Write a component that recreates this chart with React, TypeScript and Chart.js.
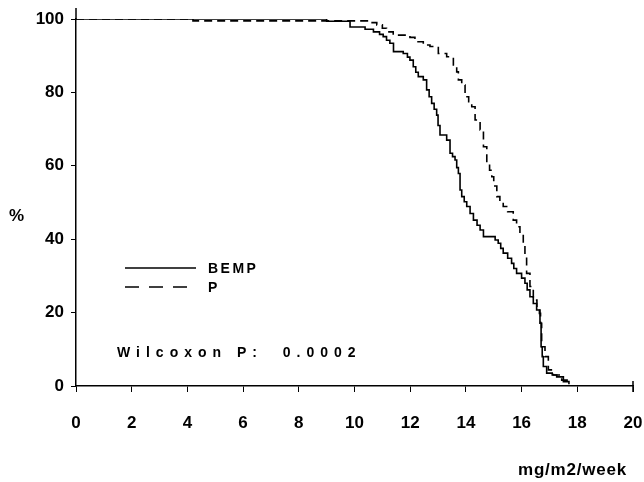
import React, { useEffect, useRef } from 'react';
import { Chart, registerables } from 'chart.js';

Chart.register(...registerables);

const xTickValues = [0, 2, 4, 6, 8, 10, 12, 14, 16, 18, 20];
const yTickValues = [0, 20, 40, 60, 80, 100];

const bempX = [0, 9.0, 9.84, 10.38, 10.68, 10.9, 11.03, 11.15, 11.27, 11.4, 11.75, 11.9, 11.99, 12.11, 12.2, 12.29, 12.47, 12.59, 12.68, 12.77, 12.86, 12.95, 13.0, 13.07, 13.31, 13.43, 13.52, 13.61, 13.67, 13.73, 13.79, 13.85, 13.94, 14.03, 14.15, 14.27, 14.4, 14.51, 14.63, 15.05, 15.16, 15.25, 15.34, 15.5, 15.64, 15.72, 15.82, 16.0, 16.12, 16.2, 16.3, 16.42, 16.54, 16.66, 16.7, 16.74, 16.78, 16.9, 17.1, 17.26, 17.5, 17.7];
const bempY = [100, 99.4, 97.8, 97.2, 96.5, 95.8, 95.2, 94.2, 93.4, 91.1, 90.6, 89.6, 88.8, 87.0, 85.5, 84.3, 83.4, 80.7, 78.8, 77.0, 75.4, 73.8, 71.0, 68.4, 67.0, 63.4, 62.5, 61.6, 59.5, 57.9, 53.4, 51.6, 50.2, 48.9, 47.0, 45.2, 43.8, 42.5, 40.7, 39.8, 38.9, 37.5, 36.2, 34.8, 33.4, 32.0, 30.7, 29.4, 28.0, 26.2, 24.3, 22.5, 20.7, 17.1, 10.7, 8.0, 5.3, 3.5, 3.0, 2.5, 1.2, 0.5];

const pX = [0, 4.2, 10.56, 10.8, 11.0, 11.15, 11.39, 11.99, 12.17, 12.47, 12.71, 13.01, 13.31, 13.55, 13.67, 13.73, 13.85, 13.97, 14.1, 14.21, 14.33, 14.51, 14.63, 14.75, 14.85, 14.93, 15.0, 15.11, 15.22, 15.34, 15.5, 15.7, 15.82, 15.94, 16.06, 16.12, 16.18, 16.3, 16.42, 16.55, 16.64, 16.68, 16.72, 16.84, 16.96, 17.14, 17.44, 17.68];
const pY = [100, 99.5, 99.0, 98.4, 97.5, 96.5, 95.6, 95.0, 93.8, 92.9, 92.5, 90.6, 89.7, 87.5, 85.6, 83.4, 82.0, 78.8, 77.5, 76.1, 72.5, 69.8, 65.2, 60.7, 58.8, 57.0, 54.5, 51.6, 50.2, 48.9, 47.5, 45.2, 43.4, 41.6, 38.9, 35.2, 30.7, 27.1, 23.4, 21.5, 19.8, 17.1, 10.7, 8.0, 4.4, 3.0, 1.6, 0.9];

const seriesNames = ['BEMP', 'P'];
const statText = 'Wilcoxon P:  0.0002';
const xTitle = 'mg/m2/week';
const yTitle = '%';

const FONT = '"Liberation Sans", Arial, Helvetica, sans-serif';

const annotations = {
  id: 'annotations',
  afterDraw(chart: any) {
    const ctx = chart.ctx as CanvasRenderingContext2D;
    const area = chart.chartArea;
    ctx.save();
    ctx.fillStyle = '#000';
    ctx.strokeStyle = '#000';

    // y-axis extension above 100
    ctx.lineWidth = 1.5;
    ctx.beginPath();
    ctx.moveTo(area.left, area.top);
    ctx.lineTo(area.left, area.top - 11);
    ctx.stroke();
    // x-axis end tick
    ctx.beginPath();
    ctx.moveTo(area.right, area.bottom - 5);
    ctx.lineTo(area.right, area.bottom + 6);
    ctx.stroke();

    // y title
    ctx.font = `bold 17px ${FONT}`;
    ctx.textBaseline = 'middle';
    ctx.textAlign = 'left';
    ctx.fillText(yTitle, 9, 216);

    // legend
    const lx0 = 125, lx1 = 196;
    const ly = [268, 287];
    ctx.lineWidth = 1.6;
    ctx.setLineDash([]);
    ctx.beginPath();
    ctx.moveTo(lx0, ly[0]);
    ctx.lineTo(lx1, ly[0]);
    ctx.stroke();
    ctx.setLineDash([14, 10]);
    ctx.beginPath();
    ctx.moveTo(lx0, ly[1]);
    ctx.lineTo(lx1, ly[1]);
    ctx.stroke();
    ctx.setLineDash([]);

    ctx.font = `bold 14px ${FONT}`;
    (ctx as any).letterSpacing = '2.5px';
    ctx.fillText(seriesNames[0], 208, ly[0] + 1);
    ctx.fillText(seriesNames[1], 208, ly[1] + 1);

    // statistic
    (ctx as any).letterSpacing = '6px';
    ctx.fillText(statText, 117, 353);

    // x title
    (ctx as any).letterSpacing = '0.8px';
    ctx.font = `bold 17px ${FONT}`;
    ctx.fillText(xTitle, 518, 470);
    (ctx as any).letterSpacing = '0px';
    ctx.restore();
  },
};

export default function App() {
  const canvasRef = useRef<HTMLCanvasElement | null>(null);

  useEffect(() => {
    const canvas = canvasRef.current;
    if (!canvas) return;
    const chart = new Chart(canvas, {
      type: 'line',
      data: {
        datasets: [
          {
            label: seriesNames[0],
            data: bempX.map((x, i) => ({ x, y: bempY[i] })),
            borderColor: '#000',
            borderWidth: 1.6,
            pointRadius: 0,
            stepped: 'before',
            fill: false,
          },
          {
            label: seriesNames[1],
            data: pX.map((x, i) => ({ x, y: pY[i] })),
            borderColor: '#000',
            borderWidth: 1.6,
            borderDash: [8, 5],
            pointRadius: 0,
            stepped: 'before',
            fill: false,
          },
        ],
      },
      options: {
        animation: false,
        responsive: false,
        maintainAspectRatio: false,
        layout: { padding: { top: 19, right: 11, left: 0, bottom: 0 } },
        plugins: {
          legend: { display: false },
          tooltip: { enabled: false },
          title: { display: false },
        },
        scales: {
          x: {
            type: 'linear',
            min: 0,
            max: 20,
            afterBuildTicks: (s: any) => {
              s.ticks = xTickValues.map((v) => ({ value: v }));
            },
            afterFit: (s: any) => {
              s.height = 96;
              s.paddingLeft = 0;
              s.paddingRight = 0;
            },
            ticks: {
              color: '#000',
              font: { family: FONT, size: 17, weight: 'bold' },
              padding: 21,
              maxRotation: 0,
              autoSkip: false,
            },
            grid: {
              drawOnChartArea: false,
              drawTicks: true,
              tickLength: 6,
              color: '#000',
              lineWidth: 1,
            },
            border: { color: '#000', width: 1.5 },
          },
          y: {
            type: 'linear',
            min: 0,
            max: 100,
            afterBuildTicks: (s: any) => {
              s.ticks = yTickValues.map((v) => ({ value: v }));
            },
            afterFit: (s: any) => {
              s.width = 76;
              s.paddingTop = 0;
              s.paddingBottom = 0;
            },
            ticks: {
              color: '#000',
              font: { family: FONT, size: 17, weight: 'bold' },
              padding: 7,
              autoSkip: false,
            },
            grid: {
              drawOnChartArea: false,
              drawTicks: true,
              tickLength: 5,
              color: '#000',
              lineWidth: 1,
            },
            border: { color: '#000', width: 1.5 },
          },
        },
      },
      plugins: [annotations],
    });
    return () => chart.destroy();
  }, []);

  return (
    <div style={{ position: 'absolute', left: 0, top: 0, width: 644, height: 482, background: '#fff' }}>
      <canvas ref={canvasRef} width={644} height={482} style={{ display: 'block', width: 644, height: 482 }} />
    </div>
  );
}
